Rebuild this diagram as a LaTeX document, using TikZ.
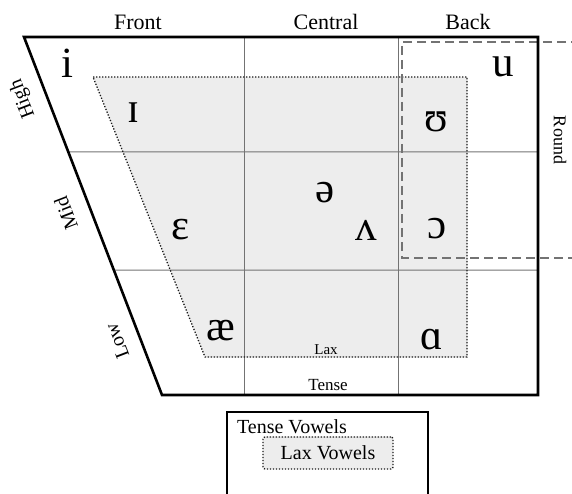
\documentclass[tikz,border=0pt]{standalone}
\usepackage{fontspec}
\setmainfont{Liberation Serif}
\usetikzlibrary{calc}

\tikzset{
	vowel/.style={inner sep=0pt, font=\fontsize{43}{43}\selectfont},
	axislabel/.style={inner sep=0pt, font=\fontsize{22}{22}\selectfont},
	sidelabel/.style={inner sep=0pt, font=\fontsize{20}{20}\selectfont, rotate=111},
	laxarea/.style={fill=black!7, draw=black!90, line width=1.3pt, dash pattern=on 1.3pt off 1.7pt},
	gridline/.style={draw=black!55, line width=1pt},
	roundline/.style={draw=black!55, line width=1.8pt, dash pattern=on 9pt off 5pt},
	frame/.style={draw=black, line width=2.6pt, line join=miter},
}

\begin{document}
\begin{tikzpicture}[x=1pt, y=-1pt]
		\useasboundingbox (0, 0) rectangle (572, 494);
		\clip (0, 0) rectangle (572, 494);

		\coordinate (TL) at (24, 37);
		\coordinate (TR) at (538, 37);
		\coordinate (BR) at (538, 395);
		\coordinate (BL) at (162, 395);
		\coordinate (L1) at ($(TL)!0.321!(BL)$);
		\coordinate (L2) at ($(TL)!0.651!(BL)$);

		% zona lax
		\fill[fill=black!7] (93, 77) -- (467, 77) -- (467, 357) -- (205, 357) -- cycle;

		% griglia
		\draw[gridline] (244, 37) -- (244, 395);
		\draw[gridline] (398, 37) -- (398, 395);
		\draw[gridline] (L1) -- (538, 152);
		\draw[gridline] (L2) -- (538, 270);

		\draw[laxarea, fill=none] (93, 77) -- (467, 77) -- (467, 357) -- (205, 357) -- cycle;

		% round
		\draw[roundline] (580, 42) -- (402, 42) -- (402, 258) -- (580, 258);

		% bordo
		\draw[frame] (TL) -- (TR) -- (BR) -- (BL) -- cycle;

		% etichette
		\node[axislabel] (front) at (138, 22) {Front};
		\node[axislabel] (central) at (326, 22) {Central};
		\node[axislabel] (back) at (468, 22) {Back};
		\node[sidelabel] (high) at (23, 99) {High};
		\node[sidelabel] (mid) at (66, 213) {Mid};
		\node[sidelabel] (low) at (117, 341) {Low};
		\node[inner sep=0pt, font=\fontsize{18}{18}\selectfont, rotate=-90] (round) at (560, 140) {Round};
		\node[inner sep=0pt, font=\fontsize{15}{15}\selectfont] (laxlabel) at (326, 350) {Lax};
		\node[inner sep=0pt, font=\fontsize{17}{17}\selectfont] (tenselabel) at (328, 385) {Tense};

		% vocali
		\node[vowel] (i) at (67, 63) {i};
		\node[vowel] (I) at (133, 113) {ɪ};
		\node[vowel] (u) at (503, 67) {u};
		\node[vowel] (U) at (436, 122) {ʊ};
		\node[vowel] (E) at (181, 230) {ɛ};
		\node[vowel] (schwa) at (325, 193) {ə};
		\node[vowel] (wedge) at (366, 230) {ʌ};
		\node[vowel] (O) at (437, 229) {ɔ};
		\node[vowel] (ae) at (221, 331) {æ};
		\node[vowel] (A) at (432, 340) {ɑ};

		% legenda
		\draw[frame] (227, 412) rectangle (428, 510);
		\node[inner sep=0pt, font=\fontsize{20}{20}\selectfont] (tensekey) at (292, 427) {Tense Vowels};
		\node[laxarea, rounded corners=2pt, minimum width=130pt, minimum height=32pt,
			font=\fontsize{20}{20}\selectfont] (laxkey) at (328, 453) {Lax Vowels};
	\end{tikzpicture}
\end{document}
